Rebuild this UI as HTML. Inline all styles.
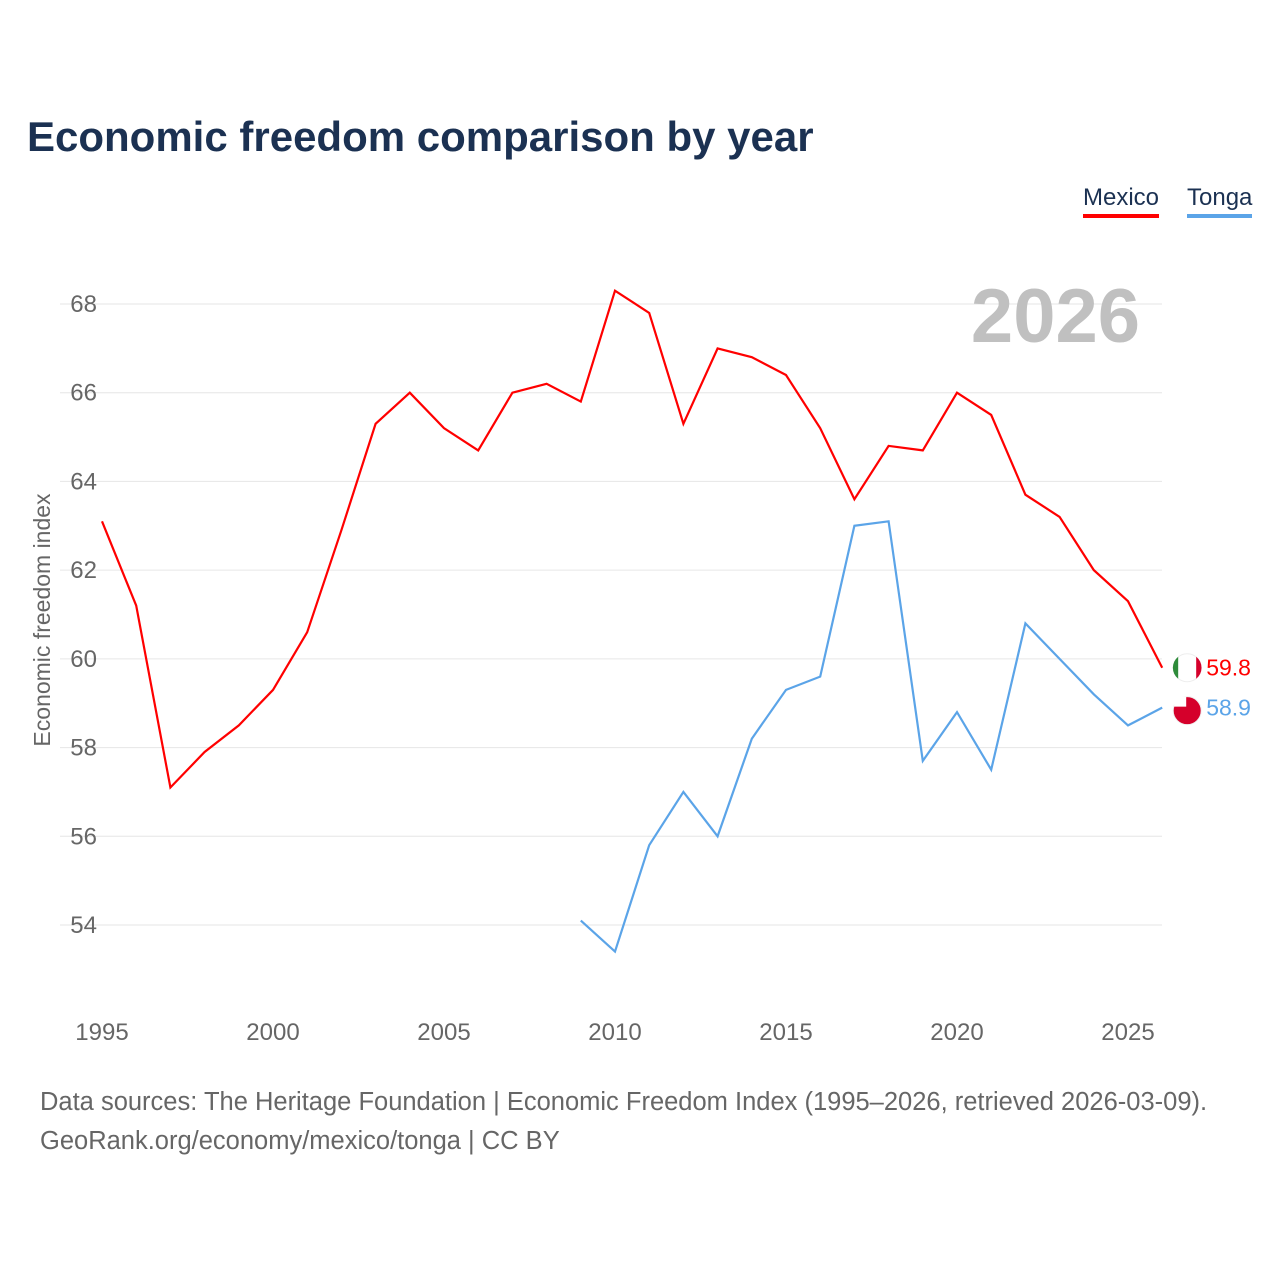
<!DOCTYPE html>
<html><head><meta charset="utf-8">
<style>
html,body{margin:0;padding:0;background:#fff;}
body{width:1280px;height:1280px;position:relative;font-family:"Liberation Sans",sans-serif;overflow:hidden;}
#title{position:absolute;left:27px;top:113px;font-size:42px;font-weight:bold;color:#1b3152;margin:0;}
.leg{position:absolute;top:184px;font-size:24px;color:#1b3152;padding-bottom:2px;}
#src{position:absolute;left:40px;top:1083px;font-size:25.5px;color:#666;line-height:39px;}
</style></head><body>
<h1 id="title">Economic freedom comparison by year</h1>
<div class="leg" style="left:1083px;border-bottom:4px solid #ff0000;">Mexico</div>
<div class="leg" style="left:1187px;border-bottom:4px solid #5ba4e8;">Tonga</div>
<svg id="chart" width="1280" height="1280" style="position:absolute;left:0;top:0"></svg>
<div id="src">Data sources: The Heritage Foundation | Economic Freedom Index (1995–2026, retrieved 2026-03-09).<br>GeoRank.org/economy/mexico/tonga | CC BY</div>
<script>
const years = [1995,1996,1997,1998,1999,2000,2001,2002,2003,2004,2005,2006,2007,2008,2009,2010,2011,2012,2013,2014,2015,2016,2017,2018,2019,2020,2021,2022,2023,2024,2025,2026];
const mexico = [63.1,61.2,57.1,57.9,58.5,59.3,60.6,62.9,65.3,66.0,65.2,64.7,66.0,66.2,65.8,68.3,67.8,65.3,67.0,66.8,66.4,65.2,63.6,64.8,64.7,66.0,65.5,63.7,63.2,62.0,61.3,59.8];
const tongaYears = [2009,2010,2011,2012,2013,2014,2015,2016,2017,2018,2019,2020,2021,2022,2023,2024,2025,2026];
const tonga = [54.1,53.4,55.8,57.0,56.0,58.2,59.3,59.6,63.0,63.1,57.7,58.8,57.5,60.8,60.0,59.2,58.5,58.9];
const yTicks = [54,56,58,60,62,64,66,68];
const xTicks = [1995,2000,2005,2010,2015,2020,2025];

const NS="http://www.w3.org/2000/svg";
const svg=document.getElementById('chart');
const X=y=>102+(y-1995)*34.2;
const Y=v=>304+(68-v)*44.357;
function mk(t,a,txt){const e=document.createElementNS(NS,t);for(const k in a)e.setAttribute(k,a[k]);if(txt!=null)e.textContent=txt;svg.appendChild(e);return e;}
const F='"Liberation Sans",sans-serif';
yTicks.forEach(v=>{
  const g=mk('line',{x1:60,x2:1162,y1:Y(v),y2:Y(v),stroke:'#e6e6e6','stroke-width':1});
  
  
  const t=mk('text',{x:97,y:Y(v)+8,'text-anchor':'end','font-size':24,fill:'#666','font-family':F},v);
  
  
});
xTicks.forEach(v=>{
  const t=mk('text',{x:X(v),y:1040,'text-anchor':'middle','font-size':24,fill:'#666','font-family':F},v);
  
  
});
const yt=mk('text',{x:0,y:0,transform:'translate(50,620) rotate(-90)','text-anchor':'middle','font-size':23,fill:'#666','font-family':F},'Economic freedom index');


const yr=mk('text',{x:1140,y:342,'text-anchor':'end','font-size':76,'font-weight':'bold',fill:'#c0c0c0','font-family':F},'2026');



function line(xs,vs,color,name){
  const d=vs.map((v,i)=>(i?'L':'M')+X(xs[i]).toFixed(1)+','+Y(v).toFixed(1)).join('');
  const p=mk('path',{d:d,fill:'none',stroke:color,'stroke-width':2.2});
  
  
  const lx=X(xs[xs.length-1]), lv=vs[vs.length-1];
  const c=mk('circle',{cx:lx+25,cy:Y(lv)+(name==='tonga'?3:0),r:14,fill:name==='tonga'?'#d5002b':'#ffffff',stroke:'#eee'});
  
  
  if(name==='mexico'){
    mk('path',{d:`M${lx+25-9},${Y(lv)-11} A14,14 0 0 0 ${lx+25-9},${Y(lv)+11} Z`,fill:'#2e8b3a'});
    mk('path',{d:`M${lx+25+9},${Y(lv)-11} A14,14 0 0 1 ${lx+25+9},${Y(lv)+11} Z`,fill:'#d5002b'});
  } else {
    mk('rect',{x:lx+12,y:Y(lv)-11,width:12,height:10,fill:'#fff'});
  }
  const t=mk('text',{x:lx+44,y:Y(lv)+8,'font-size':23,fill:color,'font-family':F},lv.toFixed(1));
  
  
}
line(years,mexico,'#ff0000','mexico');
line(tongaYears,tonga,'#5ba4e8','tonga');
</script>
</body></html>
